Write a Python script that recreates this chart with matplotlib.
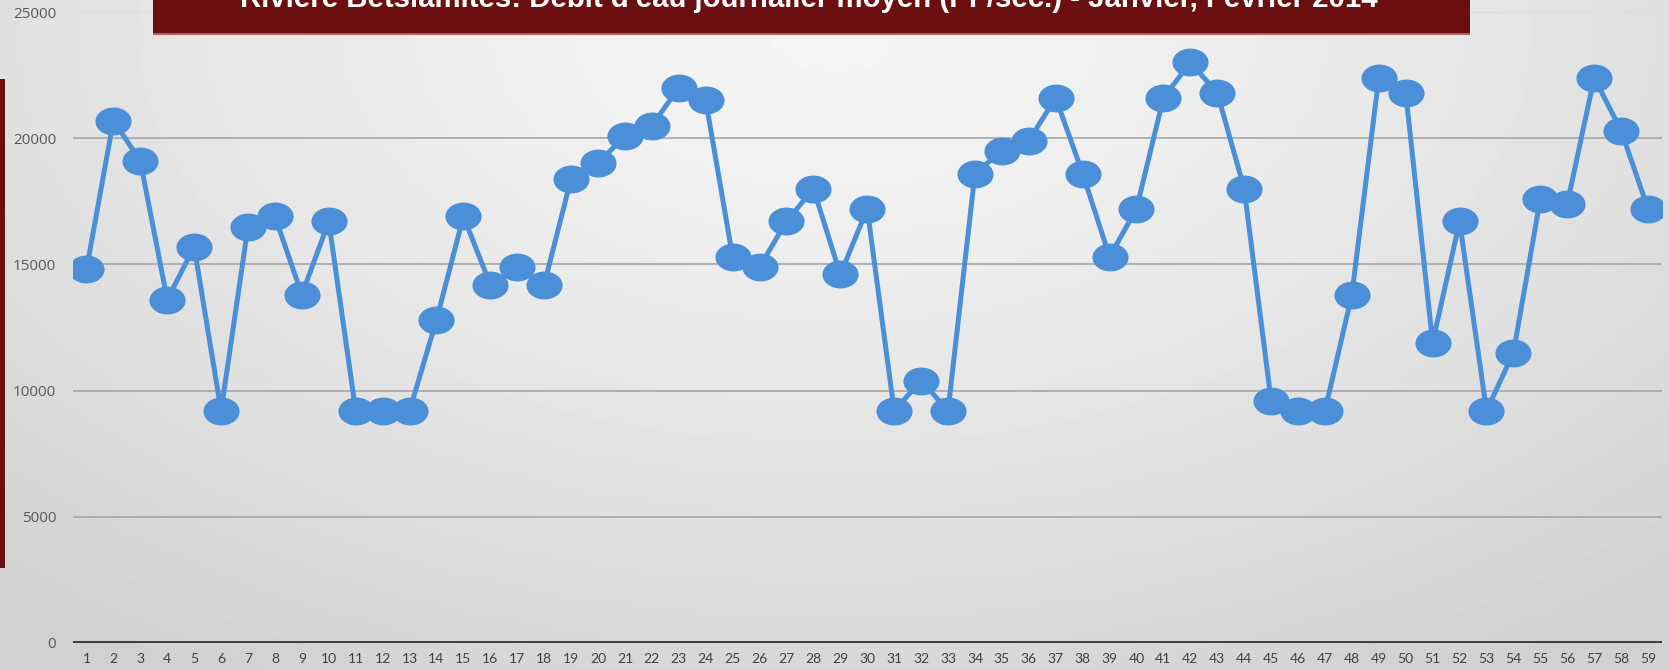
import numpy as np
import matplotlib
matplotlib.use("Agg")
import matplotlib.pyplot as plt
from matplotlib.path import Path
from matplotlib.transforms import Affine2D
from matplotlib.patches import Rectangle

# jours 1..59 (janvier + fevrier 2014)
jours = list(range(1, 60))
debit = [14800, 20700, 19100, 13600, 15700, 9200, 16500, 16900, 13800, 16700,
         9200, 9200, 9200, 12800, 16900, 14200, 14900, 14200, 18400, 19000,
         20100, 20500, 22000, 21500, 15300, 14900, 16700, 18000, 14600, 17200,
         9200, 10400, 9200, 18600, 19500, 19900, 21600, 18600, 15300, 17200,
         21600, 23000, 21800, 18000, 9600, 9200, 9200, 13800, 22400, 21800,
         11900, 16700, 9200, 11500, 17600, 17400, 22400, 20300, 17200]
yticks = [0, 5000, 10000, 15000, 20000, 25000]
titre = "Rivière Betsiamites: Débit d'eau journalier moyen (PI³/sec.) - Janvier, Février 2014"

W, H = 1669, 670
fig = plt.figure(figsize=(W / 100, H / 100), dpi=100)

# fond en degrade gris
bg = fig.add_axes([0, 0, 1, 1], zorder=-10)
yy, xx = np.mgrid[0:1:200j, 0:1:500j]
r = np.sqrt(((xx - 0.5) / 0.75) ** 2 + ((yy - 0.05) / 1.1) ** 2)
shade = 0.96 - 0.14 * np.clip(r, 0, 1) ** 1.3
bg.imshow(shade, cmap="gray", vmin=0, vmax=1, aspect="auto", extent=[0, 1, 1, 0])
bg.axis("off")

ax = fig.add_axes([73 / W, 1 - 643 / H, (1661.5 - 73) / W, (643 - 12) / H])
ax.set_facecolor("none")

# marqueur elliptique (graphique etire horizontalement)
ell = Path.unit_circle().transformed(Affine2D().scale(1.31, 1.0))
ax.plot(jours, debit, color="#4a8fd8", lw=3.6, marker=ell, markersize=25,
        markerfacecolor="#4a8fd8", markeredgecolor="#4a8fd8", zorder=3)

ax.set_xlim(0.5, 59.5)
ax.set_ylim(0, 25000)
ax.set_yticks(yticks)
ax.set_yticklabels([str(v) for v in yticks], fontfamily="Open Sans", fontsize=11, color="#595959")
ax.set_xticks(jours)
ax.set_xticklabels([str(j) for j in jours], fontfamily="Lato", fontsize=10, color="#404040")
ax.tick_params(axis="y", length=0, pad=12)
ax.tick_params(axis="x", length=0, pad=7)
for v in yticks[1:]:
    ax.axhline(v, color="#a6a6a6" if v < 25000 else "#dcdcdc", lw=1.2, zorder=1)
ax.axhline(0, color="#3c3c3c", lw=2.8, zorder=2)
for s in ax.spines.values():
    s.set_visible(False)

# bandeau du titre (coupe en haut, comme l'original)
fig.patches.append(Rectangle((153 / W, 1 - 33 / H), (1470 - 153) / W, 33 / H,
                             transform=fig.transFigure, facecolor="#6b0f10",
                             edgecolor="none", zorder=5))
fig.patches.append(Rectangle((153 / W, 1 - 34.5 / H), (1470 - 153) / W, 1.5 / H,
                             transform=fig.transFigure, facecolor="#b06060",
                             edgecolor="none", zorder=5))
fig.text(809 / W, 1 - 7 / H, titre, ha="center", va="baseline", color="white",
         fontfamily="Liberation Sans", fontweight="bold", fontsize=21.2, zorder=6)

# barre rouge a gauche
fig.patches.append(Rectangle((0, 1 - 568 / H), 5 / W, (568 - 79) / H,
                             transform=fig.transFigure, facecolor="#6b0f10",
                             edgecolor="none", zorder=5))

fig.savefig("out.png", dpi=100)
